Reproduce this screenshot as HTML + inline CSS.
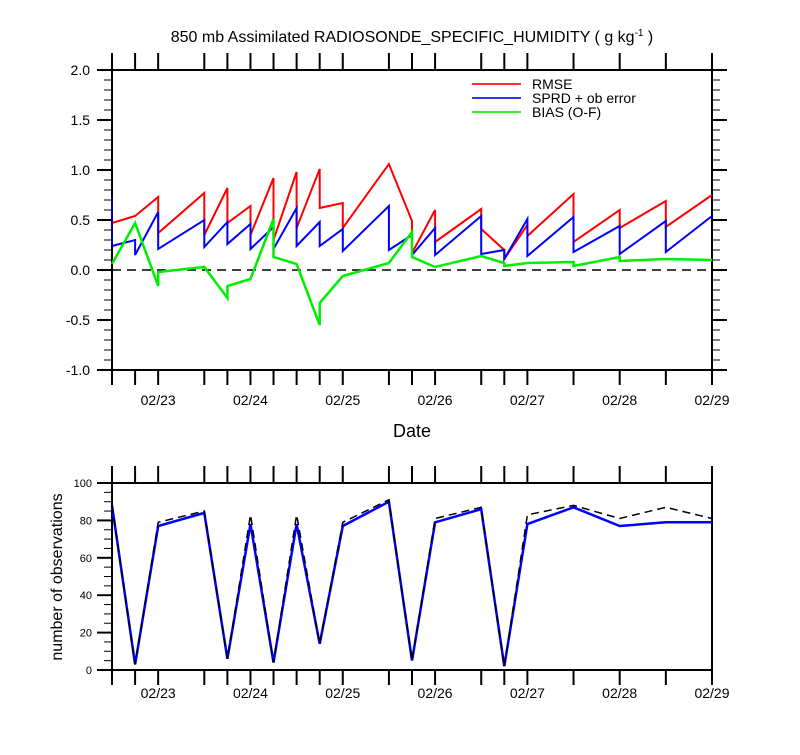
<!DOCTYPE html>
<html><head><meta charset="utf-8"><style>
body{margin:0;background:#fff}
svg text{font-family:"Liberation Sans",sans-serif;fill:#000}
</style></head><body>
<svg id="c" width="800" height="750"></svg>
<script>
// data (times in days of Feb)
const tTimes=[22.5,22.75,22.75,23,23,23.5,23.5,23.75,23.75,24,24,24.25,24.25,24.5,24.5,24.75,24.75,25,25,25.5,25.5,25.75,25.75,26,26,26.5,26.5,26.75,26.75,27,27,27.5,27.5,28,28,28.5,28.5,29];
const rmse=[0.47,0.54,0.54,0.73,0.37,0.77,0.35,0.82,0.47,0.64,0.35,0.92,0.30,0.98,0.42,1.01,0.62,0.67,0.42,1.06,1.06,0.49,0.17,0.60,0.28,0.61,0.41,0.20,0.11,0.45,0.34,0.76,0.28,0.60,0.42,0.69,0.43,0.75];
const sprd=[0.24,0.30,0.15,0.58,0.21,0.50,0.23,0.48,0.26,0.46,0.21,0.43,0.21,0.62,0.24,0.48,0.24,0.41,0.19,0.64,0.20,0.35,0.15,0.42,0.15,0.54,0.16,0.20,0.11,0.51,0.14,0.53,0.18,0.44,0.16,0.49,0.18,0.54];
const bias=[0.06,0.47,0.47,-0.16,-0.02,0.03,0.03,-0.28,-0.16,-0.09,-0.09,0.51,0.13,0.06,0.06,-0.55,-0.33,-0.06,-0.06,0.07,0.07,0.38,0.13,0.03,0.03,0.14,0.14,0.07,0.04,0.07,0.07,0.08,0.04,0.13,0.09,0.11,0.11,0.10];
const obsTimes=[22.5,22.75,23,23.5,23.75,24,24.25,24.5,24.75,25,25.5,25.75,26,26.5,26.75,27,27.5,28,28.5,29];
const obsUsed=[88,3,77,84,6,78,4,78,14,77,90,5,79,86,2,78,87,77,79,79];
const obsTotal=[88,3,79,85,6,83,4,83,14,79,91,5,81,87,2,83,88,81,87,81];
const dayLabels=["02/23","02/24","02/25","02/26","02/27","02/28","02/29"];
const dayVals=[23,24,25,26,27,28,29];
const topTicks=[-1.0,-0.5,0.0,0.5,1.0,1.5,2.0];
const botTicks=[0,20,40,60,80,100];

const svg=document.getElementById('c');const NS='http://www.w3.org/2000/svg';
function el(tag,attrs,parent){const e=document.createElementNS(NS,tag);for(const k in attrs)e.setAttribute(k,attrs[k]);(parent||svg).appendChild(e);return e;}
const X0=112,X1=712,T0=22.5,T1=29;
const xs=t=>X0+(t-T0)/(T1-T0)*(X1-X0);
const yT=v=>270-v*100;
const yB=v=>670-v*1.87;

function frame(top,bot,name,lblOff){
  const r=el('rect',{x:X0,y:top,width:X1-X0,height:bot-top,fill:'none',stroke:'#000','stroke-width':2});
  
  const uniq=[...new Set(obsTimes)];
  uniq.forEach(t=>{const x=xs(t);
    el('line',{x1:x,x2:x,y1:top,y2:top-17,stroke:'#000','stroke-width':2});
    el('line',{x1:x,x2:x,y1:bot,y2:bot+15,stroke:'#000','stroke-width':2});});
  dayVals.forEach((d,i)=>{const t=el('text',{x:xs(d),y:bot+lblOff,'text-anchor':'middle','font-size':14});t.textContent=dayLabels[i];
    });
}
function line(xsArr,ys,color,w,name,dash){
  const d=xsArr.map((t,i)=>(i?'L':'M')+xs(t).toFixed(1)+','+ys[i].toFixed(1)).join(' ');
  const p=el('path',{d:d,fill:'none',stroke:color,'stroke-width':w,'stroke-linejoin':'miter'});
  if(dash)p.setAttribute('stroke-dasharray',dash);
  
}
// title
const ti=el('text',{x:412,y:42,'text-anchor':'middle','font-size':16});
ti.innerHTML='850 mb Assimilated RADIOSONDE_SPECIFIC_HUMIDITY ( g kg<tspan dy="-6" font-size="10">-1</tspan><tspan dy="6"> )</tspan>';


// top chart
frame(70,370,'top',35);
for(let v=-1.0;v<=2.001;v+=0.1){const y=yT(v);const maj=Math.abs(Math.round(v*10)%5)===0;const L=maj?15:8;
  el('line',{x1:X0,x2:X0-L,y1:y,y2:y,stroke:'#000','stroke-width':maj?2:1});
  el('line',{x1:X1,x2:X1+L,y1:y,y2:y,stroke:'#000','stroke-width':maj?2:1});}
topTicks.forEach(v=>{const t=el('text',{x:90,y:yT(v)+5,'text-anchor':'end','font-size':14});t.textContent=v.toFixed(1);
  });
el('line',{x1:X0,x2:X1,y1:yT(0),y2:yT(0),stroke:'#000','stroke-width':1.5,'stroke-dasharray':'9,6'});
line(tTimes,rmse.map(yT),'#ff0000',2,'rmse-line');
line(tTimes,sprd.map(yT),'#0000ff',2,'sprd-line');
line(tTimes,bias.map(yT),'#00ee00',2.5,'bias-line');
el('line',{x1:X0,x2:X0,y1:yT(0.72),y2:yT(0.24),stroke:'#0000aa','stroke-width':2});
const dt=el('text',{x:412,y:437,'text-anchor':'middle','font-size':18});dt.textContent='Date';

// legend
[['RMSE','#ff3333'],['SPRD + ob error','#3333ff'],['BIAS (O-F)','#33ee33']].forEach((l,i)=>{
  const g=el('g',{});
  el('line',{x1:472,x2:521,y1:84+i*14,y2:84+i*14,stroke:l[1],'stroke-width':2},g);
  const t=el('text',{x:532,y:89+i*14,'font-size':14},g);t.textContent=l[0];});

// bottom chart
frame(483,670,'bottom',28);
for(let v=0;v<=100;v+=5){const y=yB(v);const maj=v%20===0;const L=maj?15:8;
  el('line',{x1:X0,x2:X0-L,y1:y,y2:y,stroke:'#000','stroke-width':maj?2:1});}
botTicks.forEach(v=>{const t=el('text',{x:92,y:yB(v)+4,'text-anchor':'end','font-size':11});t.textContent=v;
  });
line(obsTimes,obsUsed.map(yB),'#0000ff',2.5,'obs-used-line');
line(obsTimes,obsTotal.map(yB),'#000',1.5,'obs-total-line','8,5');
const yl=el('text',{x:0,y:0,'text-anchor':'middle','font-size':16,transform:'translate(62,577) rotate(-90)'});
yl.textContent='number of observations';
</script>
</body></html>
